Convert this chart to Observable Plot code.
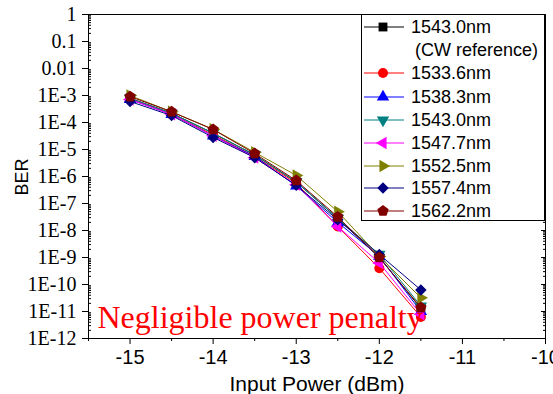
<!DOCTYPE html>
<html><head><meta charset="utf-8">
<script src="https://cdn.jsdelivr.net/npm/d3@7"></script>
<script src="https://cdn.jsdelivr.net/npm/@observablehq/plot@0.6"></script>
<style>body{margin:0;background:#fff} #chart{width:553px;height:394px;overflow:hidden}</style>
</head><body><div id="chart"></div>
<script>
// ---- data ----
const power = [-15, -14.5, -14, -13.5, -13, -12.5, -12, -11.5];
const seriesLabels = ["1543.0nm", "1533.6nm", "1538.3nm", "1543.0nm", "1547.7nm", "1552.5nm", "1557.4nm", "1562.2nm"];
const berCW     = [7.9e-4, 2.2e-4, 4.0e-5, 6.3e-6, 6.3e-7, 2.8e-8, 1.0e-9, 1.3e-11];
const ber1533_6 = [7.9e-4, 2.0e-4, 3.5e-5, 5.6e-6, 5.6e-7, 1.4e-8, 4.0e-10, 6.3e-12];
const ber1538_3 = [7.1e-4, 2.0e-4, 3.2e-5, 5.6e-6, 4.5e-7, 2.0e-8, 1.1e-9, 1.0e-11];
const ber1543_0 = [7.9e-4, 2.2e-4, 4.0e-5, 6.3e-6, 6.3e-7, 2.8e-8, 1.3e-9, 1.6e-11];
const ber1547_7 = [7.1e-4, 2.0e-4, 3.2e-5, 5.0e-6, 5.0e-7, 1.4e-8, 6.3e-10, 7.9e-12];
const ber1552_5 = [1.0e-3, 2.5e-4, 5.6e-5, 7.9e-6, 1.1e-6, 5.0e-8, 1.1e-9, 3.2e-11];
const ber1557_4 = [6.0e-4, 1.8e-4, 2.8e-5, 5.0e-6, 4.7e-7, 2.5e-8, 1.3e-9, 6.3e-11];
const ber1562_2 = [9.1e-4, 2.5e-4, 5.5e-5, 7.1e-6, 7.1e-7, 3.2e-8, 1.0e-9, 1.4e-11];
const seriesValues = [berCW, ber1533_6, ber1538_3, ber1543_0, ber1547_7, ber1552_5, ber1557_4, ber1562_2];
const colors = ["#000000", "#ff0000", "#0000ff", "#008080", "#ff00ff", "#808000", "#000080", "#800000"];
const yTickValues = [1, 0.1, 0.01, 1e-3, 1e-4, 1e-5, 1e-6, 1e-7, 1e-8, 1e-9, 1e-10, 1e-11, 1e-12];
const yTickLabels = ["1", "0.1", "0.01", "1E-3", "1E-4", "1E-5", "1E-6", "1E-7", "1E-8", "1E-9", "1E-10", "1E-11", "1E-12"];
const xTickValues = [-15, -14, -13, -12, -11, -10];
const xMinorTicks = [-15.5, -14.5, -13.5, -12.5, -11.5, -10.5];

// ---- symbols ----
const S3 = Math.sqrt(3);
function tri(angle) {
  return {draw(ctx, size) {
    const h = Math.sqrt(size / (S3 * 3));
    const pts = [[0, -2 * h], [-S3 * h, h], [S3 * h, h]];
    const c = Math.cos(angle), s = Math.sin(angle);
    pts.forEach(([x, y], i) => {
      const X = x * c - y * s, Y = x * s + y * c;
      i ? ctx.lineTo(X, Y) : ctx.moveTo(X, Y);
    });
    ctx.closePath();
  }};
}
const pentagon = {draw(ctx, size) {
  const r = Math.sqrt(size / (2.5 * Math.sin(2 * Math.PI / 5)));
  for (let i = 0; i < 5; i++) {
    const a = -Math.PI / 2 + i * 2 * Math.PI / 5;
    i ? ctx.lineTo(r * Math.cos(a), r * Math.sin(a)) : ctx.moveTo(r * Math.cos(a), r * Math.sin(a));
  }
  ctx.closePath();
}};
const diamondSq = {draw(ctx, size) {
  const r = Math.sqrt(size / 2);
  ctx.moveTo(0, -r); ctx.lineTo(r, 0); ctx.lineTo(0, r); ctx.lineTo(-r, 0); ctx.closePath();
}};
const symbols = [d3.symbolSquare, d3.symbolCircle, tri(0), tri(Math.PI), tri(-Math.PI / 2), tri(Math.PI / 2), diamondSq, pentagon];
const sizes = [5, 5, 4.6, 4.6, 4.6, 4.6, 4.6, 5.2];

const rows = seriesValues.map((vals, si) => power.map((p, i) => ({power: p, ber: vals[i], s: si})));

const yMinor = [];
for (let e = -12; e < 0; e++) for (let m = 2; m <= 9; m++) yMinor.push(m * Math.pow(10, e));

const marks = [];
rows.forEach((r, si) => {
  marks.push(Plot.line(r, {x: "power", y: "ber", stroke: colors[si], strokeWidth: 1}));
  marks.push(Plot.dot(r, {x: "power", y: "ber", fill: colors[si], stroke: "none", symbol: symbols[si], r: sizes[si]}));
});

const fmtY = d => yTickLabels[yTickValues.findIndex(v => Math.abs(Math.log10(v) - Math.log10(d)) < 1e-6)] ?? "";

const chart = Plot.plot({
  width: 553, height: 394,
  marginLeft: 88, marginRight: 8, marginTop: 14, marginBottom: 56,
  style: {fontFamily: "'Liberation Sans', Arial, sans-serif", background: "#fff", color: "#000"},
  x: {domain: [-15.5, -10]},
  y: {type: "log", domain: [1e-12, 1]},
  marks: [
    Plot.axisY({ticks: yTickValues, tickFormat: fmtY, tickSize: 6, tickPadding: 6, fontSize: 20, fontFamily: "'Liberation Serif', 'Times New Roman', serif", label: null}),
    Plot.axisY({ticks: yMinor, tickFormat: () => "", tickSize: 3, dx: 3, label: null}),
    Plot.axisY({anchor: "right", ticks: yTickValues, tickFormat: () => "", tickSize: 5, dx: -5, label: null}),
    Plot.axisY({anchor: "right", ticks: yMinor, tickFormat: () => "", tickSize: 3, dx: -3, label: null}),
    Plot.axisX({ticks: xTickValues, tickFormat: d => String(d), tickSize: 6, tickPadding: 5, fontSize: 20, label: null}),
    Plot.axisX({ticks: xMinorTicks, tickFormat: () => "", tickSize: 3, label: null}),
    Plot.frame({stroke: "#000", strokeWidth: 1}),
    Plot.text(["Input Power (dBm)"], {frameAnchor: "bottom", dy: 46, fontSize: 21, lineAnchor: "middle"}),
    Plot.text(["BER"], {frameAnchor: "left", dx: -66, dy: 19, rotate: -90, fontSize: 18}),
    ...marks,
    Plot.text(["Negligible power penalty"], {frameAnchor: "bottom-left", dx: 9, dy: -11, textAnchor: "start", lineAnchor: "bottom", fill: "#ff0000", fontSize: 32, fontFamily: "'Liberation Serif', 'Times New Roman', serif"})
  ]
});
document.getElementById("chart").appendChild(chart);

// ---- legend ----
const svg = d3.select(chart);
const lg = svg.append("g").attr("font-family", "'Liberation Sans', Arial, sans-serif").attr("font-size", 18).attr("text-anchor", "start");
lg.append("rect").attr("x", 361.5).attr("y", 14.5).attr("width", 183).attr("height", 206).attr("fill", "#fff").attr("stroke", "#000");
const rowY = [27, 73, 97, 120, 143, 166, 188, 211];
seriesLabels.forEach((lab, i) => {
  const y = rowY[i];
  lg.append("line").attr("x1", 364).attr("x2", 404).attr("y1", y).attr("y2", y).attr("stroke", colors[i]).attr("stroke-width", 1);
  lg.append("path").attr("transform", `translate(383,${y})`).attr("fill", colors[i])
    .attr("d", d3.symbol(symbols[i], sizes[i] * sizes[i] * Math.PI)());
  lg.append("text").attr("x", 411).attr("y", y).attr("dy", "0.35em").text(lab);
});
lg.append("text").attr("x", 415).attr("y", 50).attr("dy", "0.35em").text("(CW reference)");
</script>
</body></html>
